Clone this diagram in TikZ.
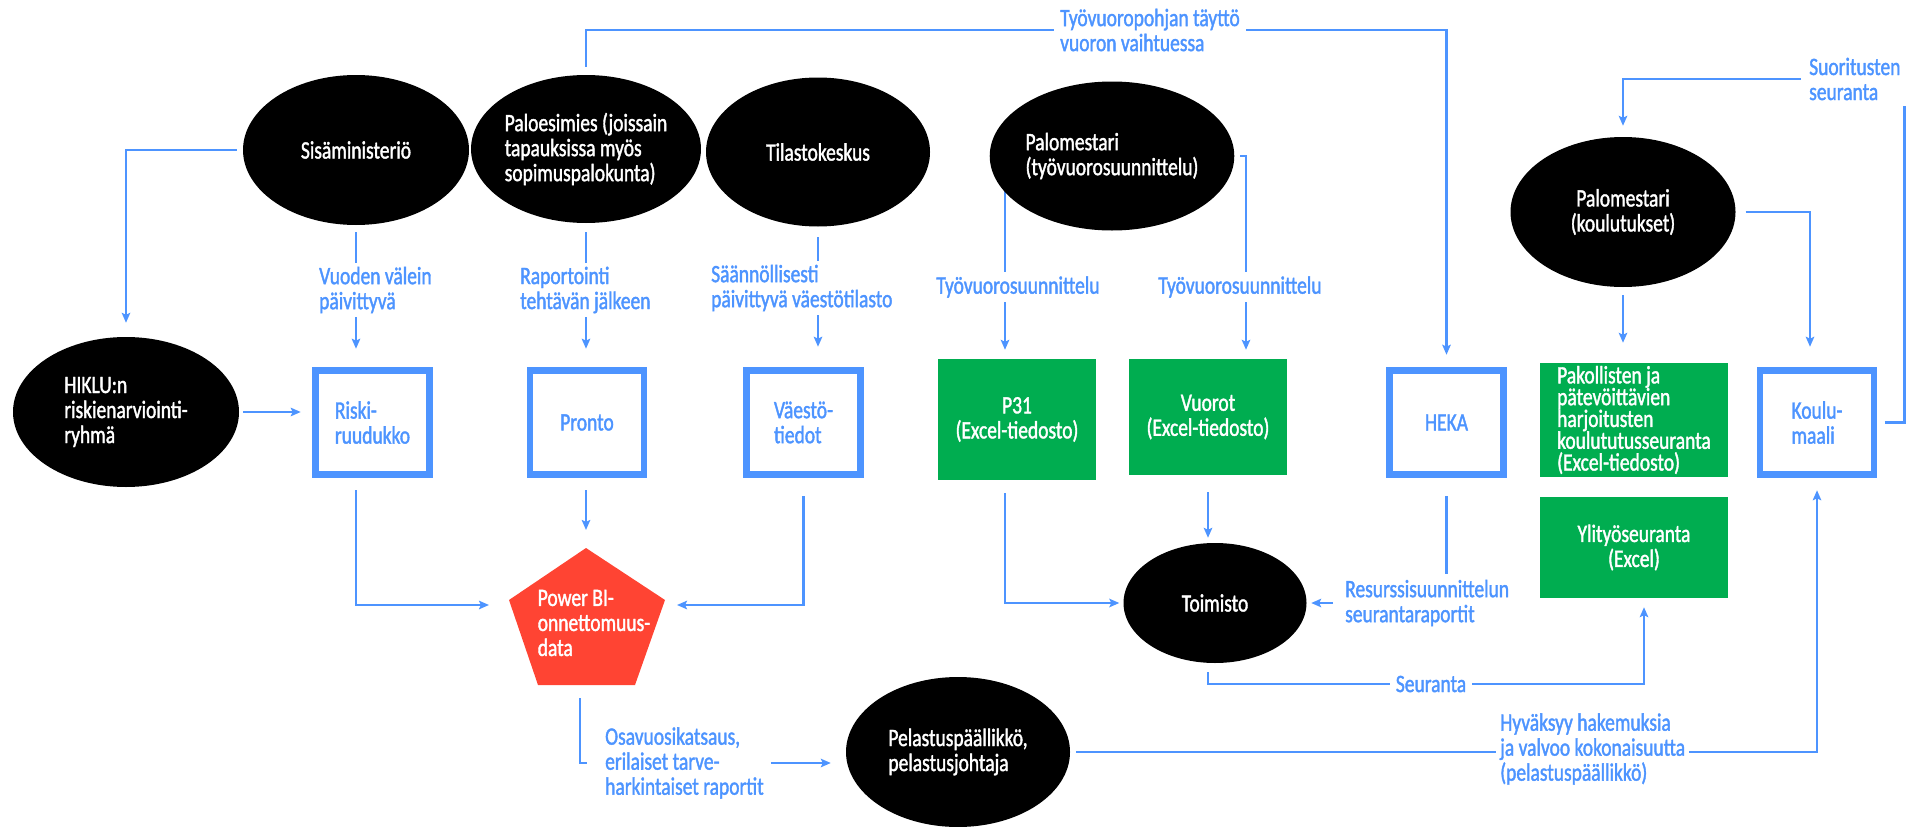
\documentclass[tikz,border=0pt]{standalone}
\usepackage{fontspec}
\setmainfont{Carlito}[FakeStretch=0.78, FakeBold=1.5]
\usetikzlibrary{shapes.geometric,arrows.meta,calc}
\definecolor{lnblue}{RGB}{77,148,255}
\definecolor{boxgreen}{RGB}{0,173,80}
\definecolor{pbired}{RGB}{255,68,51}
\pgfdeclarelayer{bg}
\pgfsetlayers{bg,main}
\tikzset{
  every node/.style={font=\fontsize{25}{25}\selectfont},
  actor/.style={ellipse, fill=black, text=white, inner sep=0pt, align=left},
  store/.style={rectangle, draw=lnblue, line width=6.5pt, fill=white, text=lnblue,
    align=left, minimum width=114pt, minimum height=104pt, inner sep=0pt},
  sheet/.style={rectangle, fill=boxgreen, text=white, align=center, inner sep=0pt},
  lbl/.style={text=lnblue, align=left, inner sep=4pt},
  cover/.style={lbl, fill=white},
  conn/.style={draw=lnblue, line width=2.6pt},
  arr/.style={conn, -{Stealth[length=10pt,width=8.5pt,inset=2pt]}},
}
\begin{document}
\begin{tikzpicture}[x=1pt,y=-1pt]
\useasboundingbox (0,0) rectangle (1928,827);

% actors
\node[actor, minimum width=226pt, minimum height=150pt] (sis) at (356,150) {Sisäministeriö};
\node[actor, minimum width=226pt, minimum height=148pt] (palo) at (586,149) {Paloesimies (joissain\\tapauksissa myös\\sopimuspalokunta)};
\node[actor, minimum width=224pt, minimum height=149pt] (tila) at (818,152) {Tilastokeskus};
\node[actor, minimum width=224pt, minimum height=149pt] (pmt) at (1112,156) {Palomestari\\(työvuorosuunnittelu)};
\node[actor, minimum width=225pt, minimum height=150pt, align=center] (pmk) at (1623,212) {Palomestari\\(koulutukset)};
\node[actor, minimum width=226pt, minimum height=150pt] (hiklu) at (126,412) {HIKLU:n\\riskienarviointi-\\ryhmä};
\node[actor, minimum width=183pt, minimum height=120pt] (toim) at (1215,603) {Toimisto};
\node[actor, minimum width=224pt, minimum height=150pt] (pel) at (958,752) {Pelastuspäällikkö,\\pelastusjohtaja};

% data stores
\node[store] (riski) at (372.5,422.5) {Riski-\\ruudukko};
\node[store] (pronto) at (587,422.5) {Pronto};
\node[store] (vaesto) at (803.5,422.5) {Väestö-\\tiedot};
\node[store] (heka) at (1446.5,422.5) {HEKA};
\node[store] (koulu) at (1817,422.5) {Koulu-\\maali};

% spreadsheets
\node[sheet, minimum width=158pt, minimum height=121pt] (p31) at (1017,419.5) {P31\\(Excel-tiedosto)};
\node[sheet, minimum width=158pt, minimum height=116pt] (vuorot) at (1208,417) {Vuorot\\(Excel-tiedosto)};
\node[sheet, minimum width=188pt, minimum height=114pt, align=left,
  font=\fontsize{25}{21.8}\selectfont] (pak) at (1634,420)
  {Pakollisten ja\\pätevöittävien\\harjoitusten\\koulututusseuranta\\(Excel-tiedosto)};
\node[sheet, minimum width=188pt, minimum height=101pt] (yli) at (1634,547.5) {Ylityöseuranta\\(Excel)};

% Power BI pentagon
\fill[pbired] (586,548) -- (665,600) -- (635,685) -- (538,685) -- (509,600) -- cycle;
\node[text=white, align=left, inner sep=0pt] (pbi) at (594,623) {Power BI-\\onnettomuus-\\data};
\coordinate (pbitop) at (586,548);
\coordinate (pbiL) at (509,605);
\coordinate (pbiR) at (665,605);
\coordinate (pbiB) at (580,685);

% lower-left exit point of the shift-planning actor
\coordinate (pmtL) at (1005,180);

% connector labels
\node[cover, anchor=west, inner sep=6pt] (tyolbl) at (1054,30) {Työvuoropohjan täyttö\\vuoron vaihtuessa};
\node[cover, anchor=west] (vuolbl) at (315,290) {Vuoden välein\\päivittyvä};
\node[cover, anchor=west] (raplbl) at (516,290) {Raportointi\\tehtävän jälkeen};
\node[cover, anchor=west] (saalbl) at (707,288) {Säännöllisesti\\päivittyvä väestötilasto};
\node[cover] (tyo1lbl) at (1018,287) {Työvuorosuunnittelu};
\node[cover] (tyo2lbl) at (1240,287) {Työvuorosuunnittelu};
\node[lbl, anchor=west] (osalbl) at (601,763) {Osavuosikatsaus,\\erilaiset tarve-\\harkintaiset raportit};
\node[lbl, anchor=west] (reslbl) at (1341,603) {Resurssisuunnittelun\\seurantaraportit};
\node[cover, inner sep=6pt] (seulbl) at (1431,684) {Seuranta};
\node[cover, anchor=west] (hyvlbl) at (1496,749) {Hyväksyy hakemuksia\\ja valvoo kokonaisuutta\\(pelastuspäällikkö)};
\node[lbl, anchor=west] (suolbl) at (1805,79) {Suoritusten\\seuranta};

\begin{pgfonlayer}{bg}
\draw[arr, shorten <=8pt, shorten >=12.5pt] (palo.north) |- (tyolbl.center) -| (heka.north);
\draw[arr, shorten <=6pt, shorten >=14pt] (sis.west) -| (hiklu.north);
\draw[arr, shorten <=7pt, shorten >=18.5pt] (sis.south) -- (sis.south |- riski.north);
\draw[arr, shorten <=9pt, shorten >=18.5pt] (palo.south) -- (palo.south |- pronto.north);
\draw[arr, shorten <=10.5pt, shorten >=20.5pt] (tila.south) -- (tila.south |- vaesto.north);
\draw[arr, shorten <=4pt, shorten >=11.5pt] (hiklu.east) -- (hiklu.east -| riski.west);
\draw[arr, shorten <=12.5pt, shorten >=20pt] (sis.south |- riski.south) |- (pbiL);
\draw[arr, shorten <=12.5pt, shorten >=18pt] (palo.south |- pronto.south) -- (palo.south |- pbitop);
\draw[arr, shorten <=18.5pt, shorten >=12pt] (vaesto.south) |- (pbiR);
\draw[conn, shorten <=13pt, shorten >=14pt] (pbiB) |- (osalbl.west);
\draw[arr, shorten <=3pt, shorten >=15pt] (osalbl.east) -- (osalbl.east -| pel.west);
\draw[arr, shorten <=6pt, shorten >=12.5pt] (pel.east) -| (koulu.south);
\draw[arr, shorten >=9pt] (pmtL) -- (pmtL |- p31.north);
\draw[arr, shorten <=6pt, shorten >=9pt] (pmt.east) -| ([xshift=38pt]vuorot.north);
\draw[arr, shorten <=13pt, shorten >=4pt] ([xshift=-12pt]p31.south) |- (toim.west);
\draw[arr, shorten <=17pt, shorten >=5pt] (vuorot.south) -- (vuorot.south |- toim.north);
\draw[conn, shorten <=18.5pt, shorten >=2pt] (heka.south) -- (heka.south |- reslbl.north);
\draw[arr, shorten <=8pt, shorten >=4.5pt] (reslbl.west) -- (reslbl.west -| toim.east);
\draw[arr, shorten <=9pt, shorten >=9pt] (vuorot.south |- toim.south) |- (seulbl.center) -| ([xshift=10pt]yli.south);
\draw[arr, shorten <=8pt, shorten >=20pt] (pmk.south) -- (pmk.south |- pak.north);
\draw[arr, shorten <=10pt, shorten >=20.5pt] (pmk.east) -| ([xshift=-7pt]koulu.north);
\draw[conn, shorten <=7.5pt, shorten >=2pt] (koulu.east) -| (suolbl.south east);
\draw[arr, shorten <=4pt, shorten >=11pt] (suolbl.west) -| (pmk.north);
\end{pgfonlayer}
\end{tikzpicture}
\end{document}
